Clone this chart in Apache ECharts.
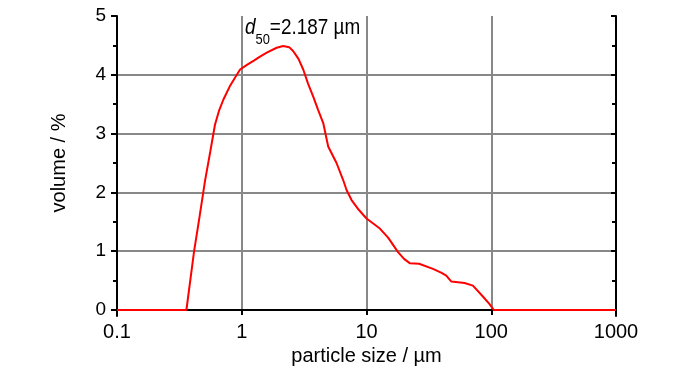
<!DOCTYPE html>
<html>
<head>
<meta charset="utf-8">
<script src="https://cdn.jsdelivr.net/npm/echarts@6/dist/echarts.min.js"></script>
<style>
  html, body { margin: 0; padding: 0; background: #fff; }
  #chart { width: 700px; height: 374px; }
</style>
</head>
<body>
<div id="chart"></div>
<script>
// particle size (µm) and volume (%)
const sizes = [0.1, 0.36, 0.415, 0.46, 0.508, 0.56, 0.61, 0.66, 0.713, 0.8, 0.9, 0.97,
  1.1, 1.25, 1.4, 1.6, 1.905, 2.15, 2.4, 2.59, 2.85, 3.11, 3.4, 3.74, 4.1, 4.5, 4.93,
  5.75, 6.5, 6.92, 7.59, 8.7, 10, 12.8, 14.9, 17.9, 20, 22.2, 26.4, 34.1, 40, 43.6,
  47.9, 61.1, 71.3, 85.7, 96.9, 104.8, 1000];
const volumes = [0, 0, 1.0, 1.6, 2.2, 2.7, 3.15, 3.4, 3.58, 3.8, 3.98, 4.09,
  4.17, 4.24, 4.31, 4.38, 4.46, 4.49, 4.47, 4.40, 4.27, 4.09, 3.85, 3.63, 3.4, 3.18, 2.78,
  2.50, 2.21, 2.04, 1.87, 1.7, 1.556, 1.385, 1.23, 0.985, 0.87, 0.797, 0.786, 0.70, 0.63, 0.586,
  0.484, 0.46, 0.415, 0.23, 0.10, 0, 0];
const xMin = 0.1, xMax = 1000;
const yMin = 0, yMax = 5, yStep = 1;
const d50Label = "=2.187 µm";

const font = "Liberation Sans";
const black = "#000";
const gridGray = "#888";

const chart = echarts.init(document.getElementById("chart"));

const points = sizes.map((s, i) => [s, volumes[i]]);

const option = {
  backgroundColor: "#fff",
  animation: false,
  textStyle: { fontFamily: font },
  // d50 annotation, slightly condensed like the original
  graphic: [
    {
      type: "text",
      x: 245,
      y: 17,
      scaleX: 0.86,
      z: 20,
      style: {
        text: "{i|d}{s|50}{n|" + d50Label + "}",
        fill: black,
        fontFamily: font,
        fontSize: 22,
        rich: {
          i: { fontFamily: font, fontStyle: "italic", fontSize: 22, fill: black, lineHeight: 22, verticalAlign: "top" },
          s: { fontFamily: font, fontSize: 15, fill: black, lineHeight: 30, verticalAlign: "bottom" },
          n: { fontFamily: font, fontSize: 22, fill: black, lineHeight: 22, verticalAlign: "top" },
        },
      },
    },
  ],
  grid: [
    // frame (its bottom edge sits a bit below y = 0)
    { left: 117, right: 84, top: 16, bottom: 58 },
    // data area
    { left: 117, right: 84, top: 16, bottom: 64 },
  ],
  xAxis: [
    {
      gridIndex: 0, type: "log", logBase: 10, min: xMin, max: xMax, position: "bottom", z: 5,
      axisLine: { lineStyle: { color: black, width: 2 } },
      axisTick: { show: true, inside: false, length: 5, lineStyle: { color: black, width: 2 } },
      axisLabel: {
        color: black, fontSize: 20, margin: 6, fontFamily: font,
        formatter: (v) => String(+Number(v).toPrecision(6)),
      },
      splitLine: { show: false },
      name: "particle size / µm",
      nameLocation: "middle",
      nameGap: 27,
      nameTextStyle: { color: black, fontSize: 20, fontFamily: font },
    },
    {
      gridIndex: 0, type: "log", logBase: 10, min: xMin, max: xMax, position: "top", z: 5,
      axisLine: { lineStyle: { color: black, width: 2 } },
      axisTick: { show: false }, axisLabel: { show: false }, splitLine: { show: false },
    },
    {
      gridIndex: 1, type: "log", logBase: 10, min: xMin, max: xMax, z: 0,
      axisLine: { show: false }, axisTick: { show: false }, axisLabel: { show: false },
      splitLine: { show: true, showMinLine: false, showMaxLine: false, lineStyle: { color: gridGray, width: 2 } },
    },
  ],
  yAxis: [
    {
      gridIndex: 0, type: "value", min: -0.1, max: yMax, position: "left", z: 5,
      axisLine: { show: true, lineStyle: { color: black, width: 2 } },
      axisTick: { show: false }, axisLabel: { show: false }, splitLine: { show: false },
    },
    {
      gridIndex: 0, type: "value", min: -0.1, max: yMax, position: "right", z: 5,
      axisLine: { show: true, lineStyle: { color: black, width: 2 } },
      axisTick: { show: false }, axisLabel: { show: false }, splitLine: { show: false },
    },
    {
      gridIndex: 1, type: "value", min: yMin, max: yMax, interval: yStep, position: "left", z: 0,
      axisLine: { show: false },
      axisTick: { show: true, inside: false, length: 6, lineStyle: { color: black, width: 2 } },
      minorTick: { show: true, splitNumber: 2, length: 4, lineStyle: { color: black, width: 2 } },
      axisLabel: { color: black, fontSize: 19, margin: 11, fontFamily: font },
      splitLine: { show: true, showMaxLine: false, lineStyle: { color: gridGray, width: 2 } },
      name: "volume / %",
      nameLocation: "middle",
      nameGap: 48,
      nameTextStyle: { color: black, fontSize: 20, fontFamily: font },
    },
    {
      gridIndex: 1, type: "value", min: yMin, max: yMax, interval: yStep, position: "right", z: 0,
      axisLine: { show: false },
      axisTick: { show: true, inside: true, length: 5, lineStyle: { color: black, width: 2 } },
      minorTick: { show: true, splitNumber: 2, length: 4, lineStyle: { color: black, width: 2 } },
      axisLabel: { show: false },
      splitLine: { show: false },
    },
  ],
  series: [
    {
      type: "line",
      xAxisIndex: 2,
      yAxisIndex: 2,
      data: points,
      showSymbol: false,
      clip: false,
      lineStyle: { color: "#ff0000", width: 2 },
      z: 10,
    },
  ],
};

chart.setOption(option);
</script>
</body>
</html>
